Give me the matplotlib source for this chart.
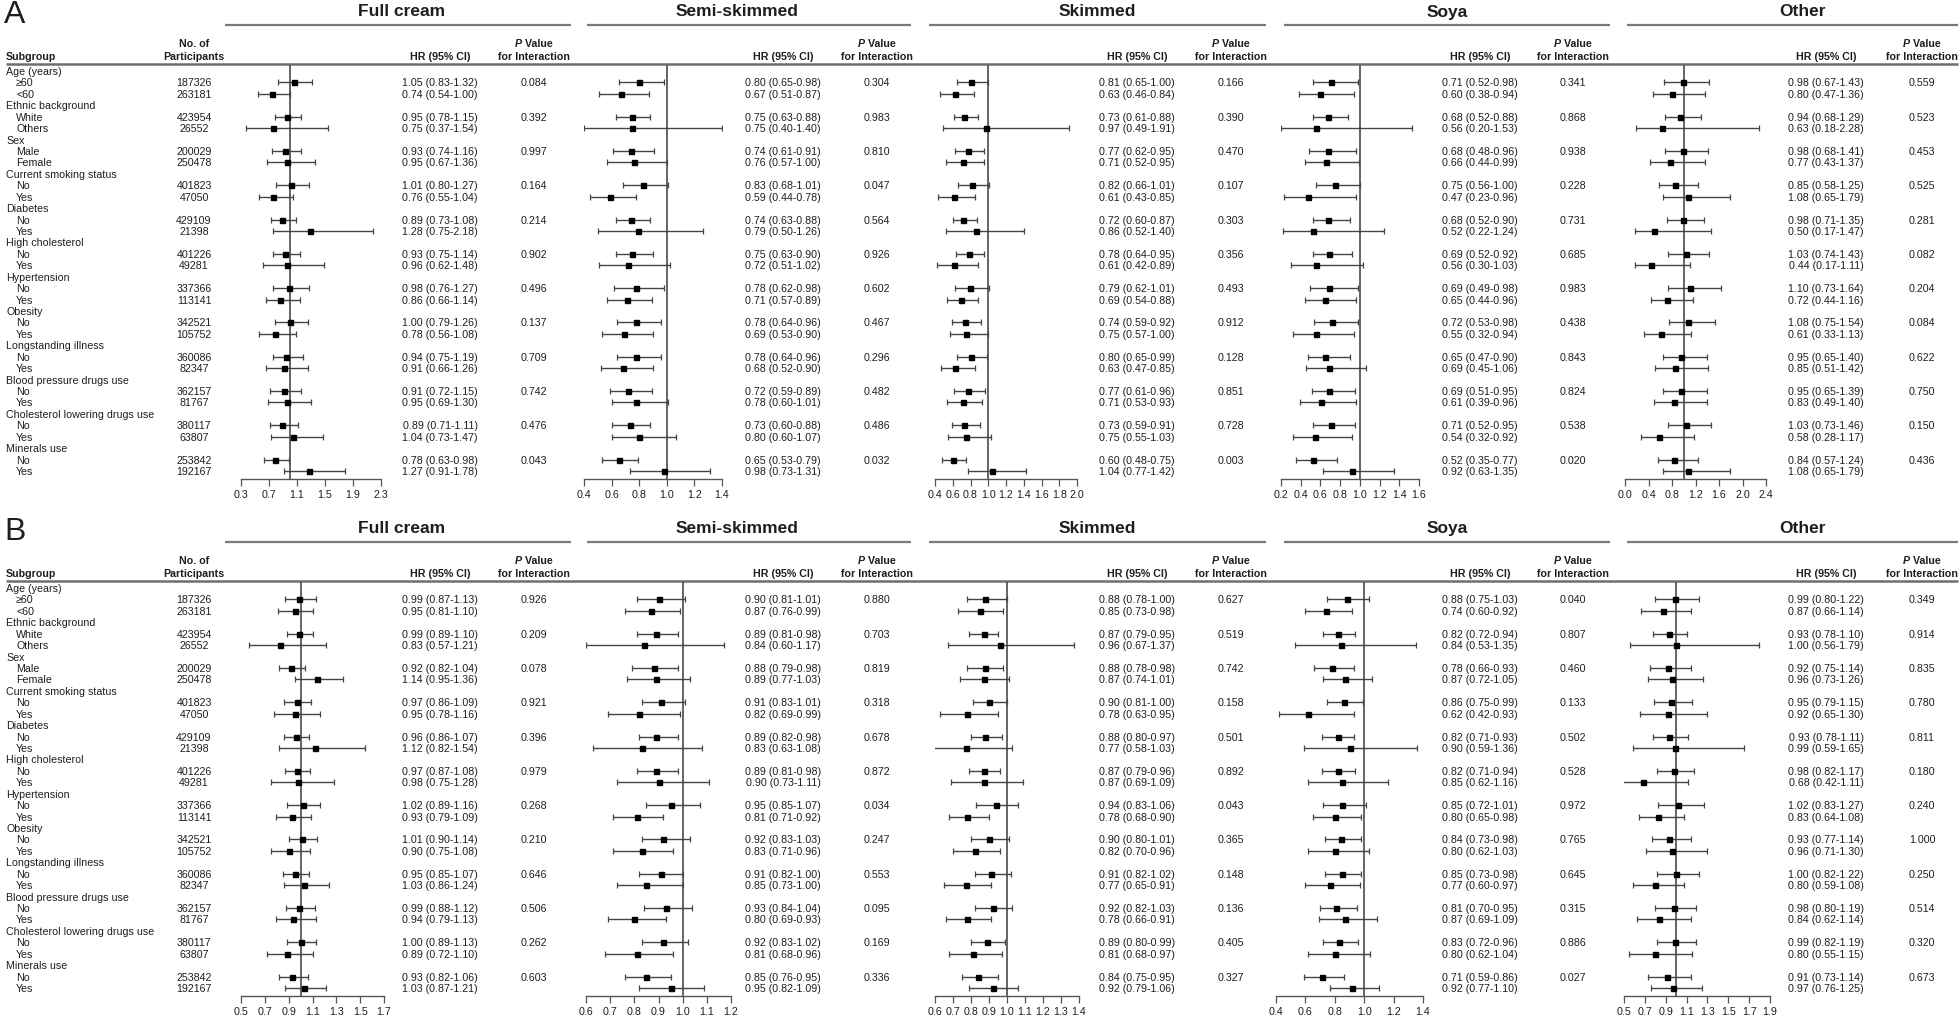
import matplotlib
matplotlib.use("Agg")
import matplotlib.pyplot as plt

plt.rcParams['font.family'] = ['Liberation Sans', 'DejaVu Sans']

# ---------------- data ----------------
subgroups = [
    ("Age (years)", ["\u226560", "<60"]),
    ("Ethnic background", ["White", "Others"]),
    ("Sex", ["Male", "Female"]),
    ("Current smoking status", ["No", "Yes"]),
    ("Diabetes", ["No", "Yes"]),
    ("High cholesterol", ["No", "Yes"]),
    ("Hypertension", ["No", "Yes"]),
    ("Obesity", ["No", "Yes"]),
    ("Longstanding illness", ["No", "Yes"]),
    ("Blood pressure drugs use", ["No", "Yes"]),
    ("Cholesterol lowering drugs use", ["No", "Yes"]),
    ("Minerals use", ["No", "Yes"]),
]
participants = [187326, 263181, 423954, 26552, 200029, 250478, 401823, 47050,
                429109, 21398, 401226, 49281, 337366, 113141, 342521, 105752,
                360086, 82347, 362157, 81767, 380117, 63807, 253842, 192167]
groups = ["Full cream", "Semi-skimmed", "Skimmed", "Soya", "Other"]

# panel A: (HR, lower, upper)
A_full_cream = [(1.05, 0.83, 1.32), (0.74, 0.54, 1.00), (0.95, 0.78, 1.15), (0.75, 0.37, 1.54),
                (0.93, 0.74, 1.16), (0.95, 0.67, 1.36), (1.01, 0.80, 1.27), (0.76, 0.55, 1.04),
                (0.89, 0.73, 1.08), (1.28, 0.75, 2.18), (0.93, 0.75, 1.14), (0.96, 0.62, 1.48),
                (0.98, 0.76, 1.27), (0.86, 0.66, 1.14), (1.00, 0.79, 1.26), (0.78, 0.56, 1.08),
                (0.94, 0.75, 1.19), (0.91, 0.66, 1.26), (0.91, 0.72, 1.15), (0.95, 0.69, 1.30),
                (0.89, 0.71, 1.11), (1.04, 0.73, 1.47), (0.78, 0.63, 0.98), (1.27, 0.91, 1.78)]
A_full_cream_p = [0.084, 0.392, 0.997, 0.164, 0.214, 0.902, 0.496, 0.137, 0.709, 0.742, 0.476, 0.043]

A_semi = [(0.80, 0.65, 0.98), (0.67, 0.51, 0.87), (0.75, 0.63, 0.88), (0.75, 0.40, 1.40),
          (0.74, 0.61, 0.91), (0.76, 0.57, 1.00), (0.83, 0.68, 1.01), (0.59, 0.44, 0.78),
          (0.74, 0.63, 0.88), (0.79, 0.50, 1.26), (0.75, 0.63, 0.90), (0.72, 0.51, 1.02),
          (0.78, 0.62, 0.98), (0.71, 0.57, 0.89), (0.78, 0.64, 0.96), (0.69, 0.53, 0.90),
          (0.78, 0.64, 0.96), (0.68, 0.52, 0.90), (0.72, 0.59, 0.89), (0.78, 0.60, 1.01),
          (0.73, 0.60, 0.88), (0.80, 0.60, 1.07), (0.65, 0.53, 0.79), (0.98, 0.73, 1.31)]
A_semi_p = [0.304, 0.983, 0.810, 0.047, 0.564, 0.926, 0.602, 0.467, 0.296, 0.482, 0.486, 0.032]

A_skimmed = [(0.81, 0.65, 1.00), (0.63, 0.46, 0.84), (0.73, 0.61, 0.88), (0.97, 0.49, 1.91),
             (0.77, 0.62, 0.95), (0.71, 0.52, 0.95), (0.82, 0.66, 1.01), (0.61, 0.43, 0.85),
             (0.72, 0.60, 0.87), (0.86, 0.52, 1.40), (0.78, 0.64, 0.95), (0.61, 0.42, 0.89),
             (0.79, 0.62, 1.01), (0.69, 0.54, 0.88), (0.74, 0.59, 0.92), (0.75, 0.57, 1.00),
             (0.80, 0.65, 0.99), (0.63, 0.47, 0.85), (0.77, 0.61, 0.96), (0.71, 0.53, 0.93),
             (0.73, 0.59, 0.91), (0.75, 0.55, 1.03), (0.60, 0.48, 0.75), (1.04, 0.77, 1.42)]
A_skimmed_p = [0.166, 0.390, 0.470, 0.107, 0.303, 0.356, 0.493, 0.912, 0.128, 0.851, 0.728, 0.003]

A_soya = [(0.71, 0.52, 0.98), (0.60, 0.38, 0.94), (0.68, 0.52, 0.88), (0.56, 0.20, 1.53),
          (0.68, 0.48, 0.96), (0.66, 0.44, 0.99), (0.75, 0.56, 1.00), (0.47, 0.23, 0.96),
          (0.68, 0.52, 0.90), (0.52, 0.22, 1.24), (0.69, 0.52, 0.92), (0.56, 0.30, 1.03),
          (0.69, 0.49, 0.98), (0.65, 0.44, 0.96), (0.72, 0.53, 0.98), (0.55, 0.32, 0.94),
          (0.65, 0.47, 0.90), (0.69, 0.45, 1.06), (0.69, 0.51, 0.95), (0.61, 0.39, 0.96),
          (0.71, 0.52, 0.95), (0.54, 0.32, 0.92), (0.52, 0.35, 0.77), (0.92, 0.63, 1.35)]
A_soya_p = [0.341, 0.868, 0.938, 0.228, 0.731, 0.685, 0.983, 0.438, 0.843, 0.824, 0.538, 0.020]

A_other = [(0.98, 0.67, 1.43), (0.80, 0.47, 1.36), (0.94, 0.68, 1.29), (0.63, 0.18, 2.28),
           (0.98, 0.68, 1.41), (0.77, 0.43, 1.37), (0.85, 0.58, 1.25), (1.08, 0.65, 1.79),
           (0.98, 0.71, 1.35), (0.50, 0.17, 1.47), (1.03, 0.74, 1.43), (0.44, 0.17, 1.11),
           (1.10, 0.73, 1.64), (0.72, 0.44, 1.16), (1.08, 0.75, 1.54), (0.61, 0.33, 1.13),
           (0.95, 0.65, 1.40), (0.85, 0.51, 1.42), (0.95, 0.65, 1.39), (0.83, 0.49, 1.40),
           (1.03, 0.73, 1.46), (0.58, 0.28, 1.17), (0.84, 0.57, 1.24), (1.08, 0.65, 1.79)]
A_other_p = [0.559, 0.523, 0.453, 0.525, 0.281, 0.082, 0.204, 0.084, 0.622, 0.750, 0.150, 0.436]

# panel B
B_full_cream = [(0.99, 0.87, 1.13), (0.95, 0.81, 1.10), (0.99, 0.89, 1.10), (0.83, 0.57, 1.21),
                (0.92, 0.82, 1.04), (1.14, 0.95, 1.36), (0.97, 0.86, 1.09), (0.95, 0.78, 1.16),
                (0.96, 0.86, 1.07), (1.12, 0.82, 1.54), (0.97, 0.87, 1.08), (0.98, 0.75, 1.28),
                (1.02, 0.89, 1.16), (0.93, 0.79, 1.09), (1.01, 0.90, 1.14), (0.90, 0.75, 1.08),
                (0.95, 0.85, 1.07), (1.03, 0.86, 1.24), (0.99, 0.88, 1.12), (0.94, 0.79, 1.13),
                (1.00, 0.89, 1.13), (0.89, 0.72, 1.10), (0.93, 0.82, 1.06), (1.03, 0.87, 1.21)]
B_full_cream_p = [0.926, 0.209, 0.078, 0.921, 0.396, 0.979, 0.268, 0.210, 0.646, 0.506, 0.262, 0.603]

B_semi = [(0.90, 0.81, 1.01), (0.87, 0.76, 0.99), (0.89, 0.81, 0.98), (0.84, 0.60, 1.17),
          (0.88, 0.79, 0.98), (0.89, 0.77, 1.03), (0.91, 0.83, 1.01), (0.82, 0.69, 0.99),
          (0.89, 0.82, 0.98), (0.83, 0.63, 1.08), (0.89, 0.81, 0.98), (0.90, 0.73, 1.11),
          (0.95, 0.85, 1.07), (0.81, 0.71, 0.92), (0.92, 0.83, 1.03), (0.83, 0.71, 0.96),
          (0.91, 0.82, 1.00), (0.85, 0.73, 1.00), (0.93, 0.84, 1.04), (0.80, 0.69, 0.93),
          (0.92, 0.83, 1.02), (0.81, 0.68, 0.96), (0.85, 0.76, 0.95), (0.95, 0.82, 1.09)]
B_semi_p = [0.880, 0.703, 0.819, 0.318, 0.678, 0.872, 0.034, 0.247, 0.553, 0.095, 0.169, 0.336]

B_skimmed = [(0.88, 0.78, 1.00), (0.85, 0.73, 0.98), (0.87, 0.79, 0.95), (0.96, 0.67, 1.37),
             (0.88, 0.78, 0.98), (0.87, 0.74, 1.01), (0.90, 0.81, 1.00), (0.78, 0.63, 0.95),
             (0.88, 0.80, 0.97), (0.77, 0.58, 1.03), (0.87, 0.79, 0.96), (0.87, 0.69, 1.09),
             (0.94, 0.83, 1.06), (0.78, 0.68, 0.90), (0.90, 0.80, 1.01), (0.82, 0.70, 0.96),
             (0.91, 0.82, 1.02), (0.77, 0.65, 0.91), (0.92, 0.82, 1.03), (0.78, 0.66, 0.91),
             (0.89, 0.80, 0.99), (0.81, 0.68, 0.97), (0.84, 0.75, 0.95), (0.92, 0.79, 1.06)]
B_skimmed_p = [0.627, 0.519, 0.742, 0.158, 0.501, 0.892, 0.043, 0.365, 0.148, 0.136, 0.405, 0.327]

B_soya = [(0.88, 0.75, 1.03), (0.74, 0.60, 0.92), (0.82, 0.72, 0.94), (0.84, 0.53, 1.35),
          (0.78, 0.66, 0.93), (0.87, 0.72, 1.05), (0.86, 0.75, 0.99), (0.62, 0.42, 0.93),
          (0.82, 0.71, 0.93), (0.90, 0.59, 1.36), (0.82, 0.71, 0.94), (0.85, 0.62, 1.16),
          (0.85, 0.72, 1.01), (0.80, 0.65, 0.98), (0.84, 0.73, 0.98), (0.80, 0.62, 1.03),
          (0.85, 0.73, 0.98), (0.77, 0.60, 0.97), (0.81, 0.70, 0.95), (0.87, 0.69, 1.09),
          (0.83, 0.72, 0.96), (0.80, 0.62, 1.04), (0.71, 0.59, 0.86), (0.92, 0.77, 1.10)]
B_soya_p = [0.040, 0.807, 0.460, 0.133, 0.502, 0.528, 0.972, 0.765, 0.645, 0.315, 0.886, 0.027]

B_other = [(0.99, 0.80, 1.22), (0.87, 0.66, 1.14), (0.93, 0.78, 1.10), (1.00, 0.56, 1.79),
           (0.92, 0.75, 1.14), (0.96, 0.73, 1.26), (0.95, 0.79, 1.15), (0.92, 0.65, 1.30),
           (0.93, 0.78, 1.11), (0.99, 0.59, 1.65), (0.98, 0.82, 1.17), (0.68, 0.42, 1.11),
           (1.02, 0.83, 1.27), (0.83, 0.64, 1.08), (0.93, 0.77, 1.14), (0.96, 0.71, 1.30),
           (1.00, 0.82, 1.22), (0.80, 0.59, 1.08), (0.98, 0.80, 1.19), (0.84, 0.62, 1.14),
           (0.99, 0.82, 1.19), (0.80, 0.55, 1.15), (0.91, 0.73, 1.14), (0.97, 0.76, 1.25)]
B_other_p = [0.349, 0.914, 0.835, 0.780, 0.811, 0.180, 0.240, 1.000, 0.250, 0.514, 0.320, 0.673]

A_ticks = [[0.3, 0.7, 1.1, 1.5, 1.9, 2.3],
           [0.4, 0.6, 0.8, 1.0, 1.2, 1.4],
           [0.4, 0.6, 0.8, 1.0, 1.2, 1.4, 1.6, 1.8, 2.0],
           [0.2, 0.4, 0.6, 0.8, 1.0, 1.2, 1.4, 1.6],
           [0.0, 0.4, 0.8, 1.2, 1.6, 2.0, 2.4]]
B_ticks = [[0.5, 0.7, 0.9, 1.1, 1.3, 1.5, 1.7],
           [0.6, 0.7, 0.8, 0.9, 1.0, 1.1, 1.2],
           [0.6, 0.7, 0.8, 0.9, 1.0, 1.1, 1.2, 1.3, 1.4],
           [0.4, 0.6, 0.8, 1.0, 1.2, 1.4],
           [0.5, 0.7, 0.9, 1.1, 1.3, 1.5, 1.7, 1.9]]

panels = [
    ("A", [A_full_cream, A_semi, A_skimmed, A_soya, A_other],
     [A_full_cream_p, A_semi_p, A_skimmed_p, A_soya_p, A_other_p], A_ticks),
    ("B", [B_full_cream, B_semi, B_skimmed, B_soya, B_other],
     [B_full_cream_p, B_semi_p, B_skimmed_p, B_soya_p, B_other_p], B_ticks),
]

# ---------------- layout (pixels) ----------------
W, H = 1960, 1020
title_x = [402, 737, 1097, 1447, 1802]
title_line = [(225, 571), (587, 911), (929, 1266), (1284, 1610), (1627, 1958)]
hr_x = [440, 783, 1137, 1480, 1826]
p_x = [534, 877, 1231, 1573, 1922]
forest_x = {"A": [(241, 381), (584, 722), (935, 1077), (1281, 1419), (1625, 1766)],
            "B": [(241, 384), (586, 731), (935, 1079), (1276, 1423), (1624, 1770)]}
panel_dy = {"A": 0, "B": 517}
row0, step = 72, 11.43
fs = 7.7
txt = '#1e1e1e'
line_c = '#555555'

fig = plt.figure(figsize=(W / 100, H / 100), dpi=100)
ov = fig.add_axes([0, 0, 1, 1])
ov.set_xlim(0, W)
ov.set_ylim(H, 0)
ov.axis('off')

for name, gdata, gp, gticks in panels:
    dy = panel_dy[name]
    ov.text(4, 15 + dy, name, fontsize=23, va='center', ha='left', color=txt)

    # column headers
    ov.text(6, 57 + dy, "Subgroup", fontsize=fs, fontweight='bold', va='center', color=txt)
    ov.text(194, 44 + dy, "No. of", fontsize=fs, fontweight='bold', va='center', ha='center', color=txt)
    ov.text(194, 57 + dy, "Participants", fontsize=fs, fontweight='bold', va='center', ha='center', color=txt)
    ov.plot([6, 1958], [65 + dy, 65 + dy], color='#6e6e6e', lw=1.8, solid_capstyle='butt')

    for g in range(5):
        ov.text(title_x[g], 12 + dy, groups[g], fontsize=12.5, fontweight='bold',
                va='center', ha='center', color=txt)
        ov.plot(title_line[g], [26 + dy, 26 + dy], color='#7a7a7a', lw=1.6, solid_capstyle='butt')
        ov.text(hr_x[g], 57 + dy, "HR (95% CI)", fontsize=fs, fontweight='bold',
                va='center', ha='center', color=txt)
        pt = ov.text(p_x[g] - 12, 44 + dy, "P", fontsize=fs, fontweight='bold', fontstyle='italic',
                     va='center', ha='right', color=txt)
        ov.annotate(" Value", xy=(1, 0), xycoords=pt, fontsize=fs, fontweight='bold',
                    va='bottom', ha='left', color=txt)
        ov.text(p_x[g], 57 + dy, "for Interaction", fontsize=fs, fontweight='bold',
                va='center', ha='center', color=txt)

    # rows
    k = 0
    for j, (head, subs) in enumerate(subgroups):
        r = 3 * j
        ov.text(6, row0 + r * step + dy, head, fontsize=fs, va='center', color=txt)
        for s, lab in enumerate(subs):
            y = row0 + (r + 1 + s) * step + dy
            ov.text(16, y, lab, fontsize=fs, va='center', color=txt)
            ov.text(194, y, str(participants[k]), fontsize=fs, va='center', ha='center', color=txt)
            for g in range(5):
                hr, lo, hi = gdata[g][k]
                ov.text(hr_x[g], y, f"{hr:.2f} ({lo:.2f}-{hi:.2f})", fontsize=fs,
                        va='center', ha='center', color=txt)
                if s == 0:
                    ov.text(p_x[g], y, f"{gp[g][j]:.3f}", fontsize=fs,
                            va='center', ha='center', color=txt)
            k += 1

    # forest plots
    top_px, bot_px = 66 + dy, 480 + dy
    for g in range(5):
        x0, x1 = forest_x[name][g]
        ax = fig.add_axes([x0 / W, 1 - bot_px / H, (x1 - x0) / W, (bot_px - top_px) / H])
        ax.patch.set_visible(False)
        ticks = gticks[g]
        ax.set_xlim(ticks[0], ticks[-1])
        ax.set_ylim((bot_px - dy - row0) / step, (top_px - dy - row0) / step)
        for sp in ['top', 'right', 'left']:
            ax.spines[sp].set_visible(False)
        ax.spines['bottom'].set_color(line_c)
        ax.spines['bottom'].set_linewidth(1.0)
        ax.set_yticks([])
        ax.set_xticks(ticks)
        ax.set_xticklabels([f"{t:.1f}" for t in ticks], fontsize=fs, color=txt)
        ax.tick_params(axis='x', direction='out', length=5, width=0.9, color=line_c, pad=2)
        ax.axvline(1.0, color='#4a4a4a', lw=1.2, zorder=1)

        ys, hrs, los, his = [], [], [], []
        k = 0
        for j in range(len(subgroups)):
            for s in range(2):
                hr, lo, hi = gdata[g][k]
                ys.append(3 * j + 1 + s)
                hrs.append(hr)
                los.append(hr - lo)
                his.append(hi - hr)
                k += 1
        ax.errorbar(hrs, ys, xerr=[los, his], fmt='s', color='black', ms=3.6,
                    ecolor='#444444', elinewidth=1.0, capsize=2.5, capthick=0.9, zorder=3)

fig.savefig("out.png", dpi=100)
